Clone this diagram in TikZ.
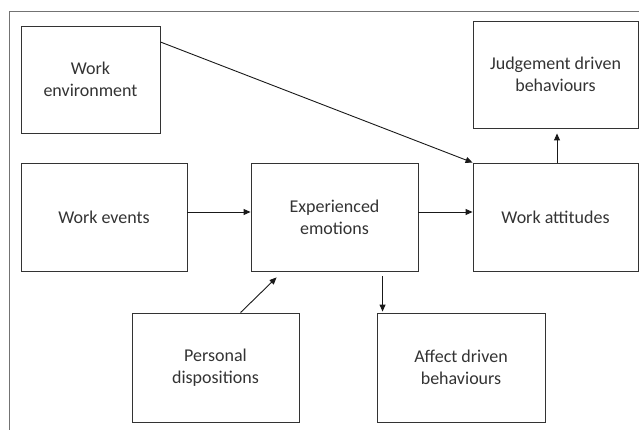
\documentclass[tikz,border=0pt]{standalone}
\usepackage{fontspec}
\setmainfont{Carlito}
\usetikzlibrary{positioning,calc,arrows.meta}

\begin{document}
\begin{tikzpicture}[x=1pt, y=-1pt,
    box/.style={draw=black!80, line width=0.9pt, align=center, inner sep=0pt,
        minimum width=167pt, minimum height=108pt, text=black!80,
        font=\fontsize{18}{22}\selectfont},
    arr/.style={draw=black!90, line width=0.9pt, -{Triangle[length=7pt,width=6pt]}}]
    \useasboundingbox (0,0) rectangle (639,430);

    % outer frame
    \draw [black!55, line width=0.9pt] (9,430) -- (9,11) -- (639,11);

    % boxes
    \node[box, minimum width=139pt, minimum height=107pt] (env) at (90.5,79.5) {Work\\environment};
    \node[box, minimum width=165pt, minimum height=107pt] (jud) at (555.5,74.5) {Judgement driven\\behaviours};
    \node[box, minimum width=166pt] (events) at (104,217) {Work events};
    \node[box] (emo) at (334.5,217) {Experienced\\emotions};
    \node[box, minimum width=165pt] (att) at (555.5,217) {Work attitudes};
    \node[box, minimum height=109pt] (per) at (215.5,367.5) {Personal\\dispositions};
    \node[box, minimum width=168pt, minimum height=109pt] (aff) at (461,367.5) {Affect driven\\behaviours};

    % connectors
    \draw[arr] ([yshift=5pt]events.east) -- ([yshift=5pt]emo.west);
    \draw[arr] ([yshift=5pt]emo.east) -- ([yshift=5pt]att.west);
    \draw[arr] ([yshift=37.5pt]env.east) -- (att.north west);
    \draw[arr] ($(att.north)+(1.5,0)$) -- ($(jud.south)+(1.5,5)$);
    \draw[arr] ($(aff.north west |- emo.south)+(6,5)$) -- ($(aff.north west)+(6,-1)$);
    \draw[arr] ($(per.north west)+(109,0)$) -- ($(emo.south west)+(26,6)$);
\end{tikzpicture}
\end{document}
